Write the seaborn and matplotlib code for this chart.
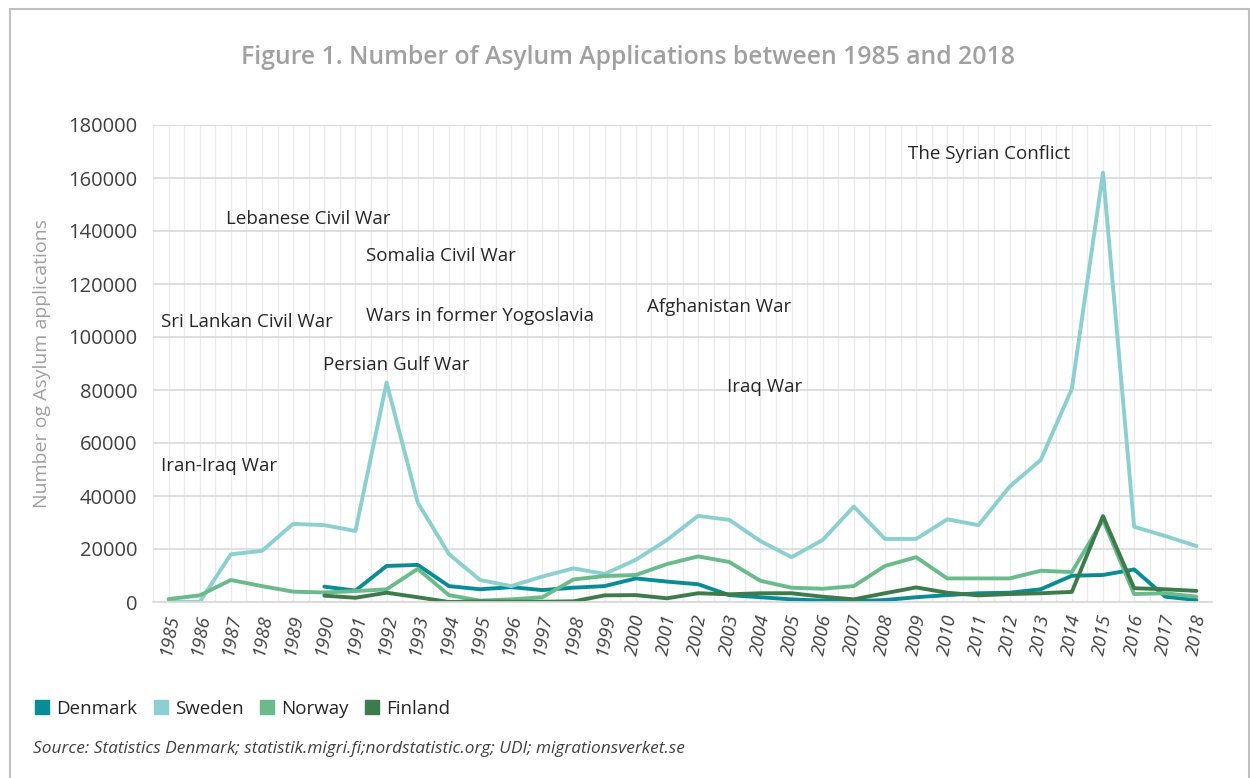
import numpy as np
import pandas as pd
import matplotlib.pyplot as plt
import matplotlib.patches as mpatches
from matplotlib.lines import Line2D
import seaborn as sns

# Data
years = list(range(1985, 2019))

sweden = [0, 0, 18000, 19300, 29500, 29000, 26800, 82800, 37500, 18100,
          8300, 6000, 9600, 12700, 10600, 15900, 23400, 32500, 31000, 23000,
          16900, 23400, 36000, 23800, 23800, 31200, 29000, 43500, 53600, 80400,
          162000, 28400, 24900, 21100]

norway = [1100, 2500, 8300, 6000, 3900, 3600, 4100, 4800, 12500, 2600,
          500, 1000, 1800, 8500, 9800, 10200, 14300, 17200, 15100, 8000,
          5400, 5000, 6000, 13600, 16900, 8900, 8900, 8900, 11800, 11300,
          31000, 3000, 3300, 2000]

denmark = [None, None, None, None, None, 5800, 4300, 13600, 14000, 6000,
           4800, 5600, 4500, 5400, 6000, 8900, 7700, 6700, 2600, 1800,
           1000, 500, 250, 750, 1800, 2600, 3300, 3500, 4800, 9900,
           10200, 12300, 2000, 750]

finland = [None, None, None, None, None, 2400, 1600, 3500, 1800, 0,
           250, 100, 100, 250, 2500, 2600, 1400, 3300, 2900, 3300,
           3300, 2000, 1000, 3300, 5500, 3500, 2500, 3000, 3300, 3800,
           32400, 5200, 4800, 4200]

countries = ["Denmark", "Sweden", "Norway", "Finland"]
colors = {"Denmark": "#0A8C97", "Sweden": "#8CCFD0",
          "Norway": "#6BBA8B", "Finland": "#3D7A4C"}

events = ["The Syrian Conflict", "Lebanese Civil War", "Somalia Civil War",
          "Sri Lankan Civil War", "Wars in former Yogoslavia", "Afghanistan War",
          "Persian Gulf War", "Iraq War", "Iran-Iraq War"]

frames = []
for name, vals in zip(countries, [denmark, sweden, norway, finland]):
    frames.append(pd.DataFrame({"Year": years, "Applications": vals, "Country": name}))
df = pd.concat(frames).dropna()

sns.set_theme(style="white")
plt.rcParams['font.family'] = ['Open Sans', 'DejaVu Sans']

W, H = 1251, 778
fig = plt.figure(figsize=(W / 100, H / 100), dpi=100)
ax = fig.add_axes([153 / W, 1 - 602 / H, (1212 - 153) / W, (602 - 125) / H])

# light grid, every half year vertically
for x in np.arange(1984.5, 2019, 0.5):
    ax.axvline(x, color="#EBEBEB", lw=1, zorder=0)
ax.yaxis.grid(True, color="#D9D9D9", lw=1.2)
ax.set_axisbelow(True)

sns.lineplot(data=df, x="Year", y="Applications", hue="Country",
             hue_order=countries, palette=colors, linewidth=2.8,
             legend=False, ax=ax)

ax.set_xlim(1984.5, 2018.5)
ax.set_ylim(0, 180000)
ax.set_yticks(range(0, 180001, 20000))
ax.set_yticklabels([str(v) for v in range(0, 180001, 20000)],
                   fontsize=14.5, color="#404040")
ax.set_xticks(years)
ax.set_xticklabels([str(y) for y in years], rotation=80, fontsize=13.5,
                   color="#404040", fontstyle="italic")
ax.tick_params(axis="both", length=0)
ax.tick_params(axis="x", pad=8)
ax.tick_params(axis="y", pad=11.5)
ax.set_xlabel("")
ax.set_ylabel("Number og Asylum applications", fontsize=14, color="#A0A0A0", labelpad=12)
for side in ["top", "right", "left"]:
    ax.spines[side].set_visible(False)
ax.spines["bottom"].set_color("#D9D9D9")
ax.spines["bottom"].set_linewidth(1.2)

# event labels (pixel positions from the reference)
ev_pos = [(908, 154), (226, 219), (366, 256), (161, 322), (366, 316),
          (647, 307), (323, 365), (727, 387), (161, 466)]
for txt, (px, py) in zip(events, ev_pos):
    fig.text(px / W, 1 - py / H, txt, fontsize=13.5, color="#262626",
             ha="left", va="center")

fig.text(628 / W, 1 - 58 / H, "Figure 1. Number of Asylum Applications between 1985 and 2018",
         fontsize=17.8, color="#A0A0A0", ha="center", va="center", fontweight="semibold")

handles = [Line2D([], [], marker="s", linestyle="", markersize=9.5,
                  markerfacecolor=colors[c], markeredgecolor=colors[c], label=c)
           for c in countries]
fig.legend(handles=handles, loc="center left", bbox_to_anchor=(16 / W, 1 - 709 / H),
           ncol=4, frameon=False, fontsize=13.5, handletextpad=0.25,
           columnspacing=0.75, handlelength=1.0, labelcolor="#262626")

fig.text(33 / W, 1 - 749 / H,
         "Source: Statistics Denmark; statistik.migri.fi;nordstatistic.org; UDI; migrationsverket.se",
         fontsize=12.4, fontstyle="italic", color="#404040", ha="left", va="center")

# outer frame
fig.patches.append(mpatches.Rectangle((10 / W, -0.05), (1249 - 10) / W, 1 - 9 / H + 0.05,
                                      transform=fig.transFigure, fill=False,
                                      edgecolor="#BFBFBF", lw=1.5))

fig.savefig("out.png", dpi=100)
